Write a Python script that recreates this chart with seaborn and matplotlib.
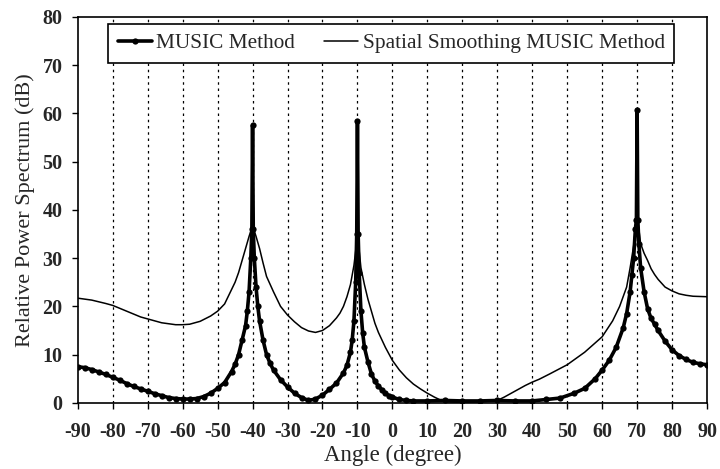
import matplotlib
matplotlib.use("Agg")
import matplotlib.pyplot as plt
import seaborn as sns
import pandas as pd

# MUSIC Method
music_angle = [-90, -88, -86, -84, -82, -80, -78, -76, -74, -72, -70, -68, -66, -64, -62, -60,
               -58, -56, -54, -52, -50, -48, -46, -45, -44, -43, -42, -41.5, -41, -40.5, -40.2,
               -40, -39.8, -39.5, -39, -38.5, -38, -37, -36, -35, -34, -32, -30, -28, -26, -24,
               -22, -20, -18, -16, -14, -13, -12, -11.5, -11, -10.5, -10.2, -10, -9.8, -9.5, -9,
               -8.5, -8, -7, -6, -5, -4, -3, -2, -1, 0, 2, 4, 6, 10, 15, 20, 25, 30, 35, 40, 44,
               48, 52, 55, 58, 60, 62, 64, 66, 67, 68, 68.5, 69, 69.5, 69.8, 70, 70.2, 70.5, 71,
               72, 73, 74, 75, 76, 78, 80, 82, 84, 86, 88, 90]
music_db = [7.5, 7.3, 6.9, 6.4, 5.9, 5.3, 4.7, 4.0, 3.4, 2.9, 2.4, 1.9, 1.5, 1.1, 0.9, 0.8,
            0.8, 0.9, 1.3, 2.0, 3.0, 4.2, 6.5, 8.0, 10.0, 13.0, 16.0, 19.0, 23.0, 30.0, 36.0,
            57.5, 36.0, 30.0, 24.0, 20.0, 17.0, 13.0, 10.0, 8.2, 6.8, 4.8, 3.3, 2.0, 1.1, 0.5,
            0.8, 1.6, 2.8, 4.1, 6.2, 7.8, 10.5, 13.0, 17.0, 25.0, 35.0, 58.5, 35.0, 27.0, 19.0,
            14.5, 11.5, 8.5, 6.0, 4.5, 3.5, 2.7, 2.0, 1.5, 1.2, 0.7, 0.5, 0.4, 0.4, 0.5, 0.4, 0.4,
            0.5, 0.4, 0.4, 0.7, 1.0, 2.0, 3.0, 5.0, 6.8, 8.8, 11.5, 15.5, 18.5, 23.0, 26.5, 30.0,
            36.0, 38.0, 60.8, 38.0, 33.0, 28.0, 23.0, 19.5, 17.5, 16.3, 15.0, 12.8, 11.0, 9.8, 9.0,
            8.4, 8.1, 7.9]

# Spatial Smoothing MUSIC Method
ss_angle = [-90, -86, -82, -80, -76, -72, -70, -66, -62, -60, -58, -55, -52, -50, -48, -46, -45,
            -44, -43, -42, -41, -40.5, -40, -39.5, -39, -38, -37, -36, -34, -32, -30, -28, -26, -24,
            -22, -20, -18, -16, -15, -14, -13, -12, -11, -10.5, -10, -9.5, -9, -8, -7, -6, -5, -4,
            -2, 0, 2, 4, 6, 8, 10, 12, 14, 16, 20, 25, 30, 32, 34, 36, 38, 40, 42, 45, 50, 55, 60,
            63, 65, 67, 68, 69, 69.5, 70, 70.5, 71, 72, 73, 74, 75, 76, 78, 80, 82, 84, 86, 90]
ss_db = [21.7, 21.3, 20.6, 20.2, 19.0, 17.8, 17.4, 16.6, 16.2, 16.2, 16.3, 16.9, 18.0, 19.0, 20.5,
         23.5, 25.0, 27.0, 29.5, 32.0, 34.5, 35.6, 36.0, 35.6, 34.5, 32.0, 29.0, 26.2, 23.0, 20.0,
         18.2, 16.8, 15.6, 14.9, 14.6, 15.0, 16.0, 17.6, 18.6, 20.0, 22.0, 24.5, 28.5, 31.5, 35.5,
         31.5, 28.0, 24.5, 21.5, 19.0, 16.5, 14.6, 11.5, 8.8, 6.8, 5.2, 3.9, 2.9, 2.0, 1.2, 0.5,
         0.2, 0.1, 0.2, 0.5, 1.2, 2.0, 2.8, 3.6, 4.3, 4.9, 6.0, 7.9, 10.5, 13.7, 17.0, 20.0, 24.0,
         28.0, 32.5, 36.0, 39.0, 36.0, 33.0, 31.0, 29.5, 27.8, 26.6, 25.6, 24.0, 23.2, 22.6, 22.3,
         22.1, 22.0]

x_ticks = list(range(-90, 91, 10))
y_ticks = list(range(0, 81, 10))

sns.set_theme(style="ticks")
plt.rcParams["font.family"] = ["Liberation Serif", "DejaVu Serif"]

fig = plt.figure(figsize=(7.2, 4.69), dpi=100)
ax = fig.add_axes([0.108, 0.141, 0.874, 0.823])

# vertical dashed gridlines
for xv in x_ticks[1:-1]:
    ax.axvline(xv, color="black", linestyle=(0, (2, 3)), linewidth=0.9, zorder=0)

df_m = pd.DataFrame({"angle": music_angle, "db": music_db})
df_s = pd.DataFrame({"angle": ss_angle, "db": ss_db})

sns.lineplot(data=df_m, x="angle", y="db", ax=ax, color="black", linewidth=2.6,
             marker="o", markersize=4.5, markeredgewidth=0, label="MUSIC Method",
             sort=False, zorder=3)
sns.lineplot(data=df_s, x="angle", y="db", ax=ax, color="black", linewidth=1.1,
             label="Spatial Smoothing MUSIC Method", sort=False, zorder=2)

ax.set_xlim(-90, 90)
ax.set_ylim(0, 80)
ax.set_xticks(x_ticks)
ax.set_yticks(y_ticks)
ax.set_xticklabels([str(v) for v in x_ticks], fontsize=14.5, fontweight="bold")
ax.set_yticklabels([str(v) for v in y_ticks], fontsize=14.5, fontweight="bold")
ax.tick_params(direction="out", length=4, width=1, color="black")
ax.tick_params(axis="x", pad=10)
ax.tick_params(axis="y", pad=7)
ax.set_xlabel("Angle (degree)", fontsize=16.5, labelpad=2)
ax.set_ylabel("Relative Power Spectrum (dB)", fontsize=16, labelpad=5)
for s in ax.spines.values():
    s.set_color("black")
    s.set_linewidth(1.2)

leg = ax.legend(loc="upper center", bbox_to_anchor=(0.498, 0.982), ncol=2, fontsize=15.3,
                frameon=True, fancybox=False, edgecolor="black", framealpha=1,
                handlelength=1.6, columnspacing=1.4, borderpad=0.45, handletextpad=0.2,
                borderaxespad=0)
leg.get_frame().set_linewidth(1.2)

fig.savefig("out.png", dpi=100)
